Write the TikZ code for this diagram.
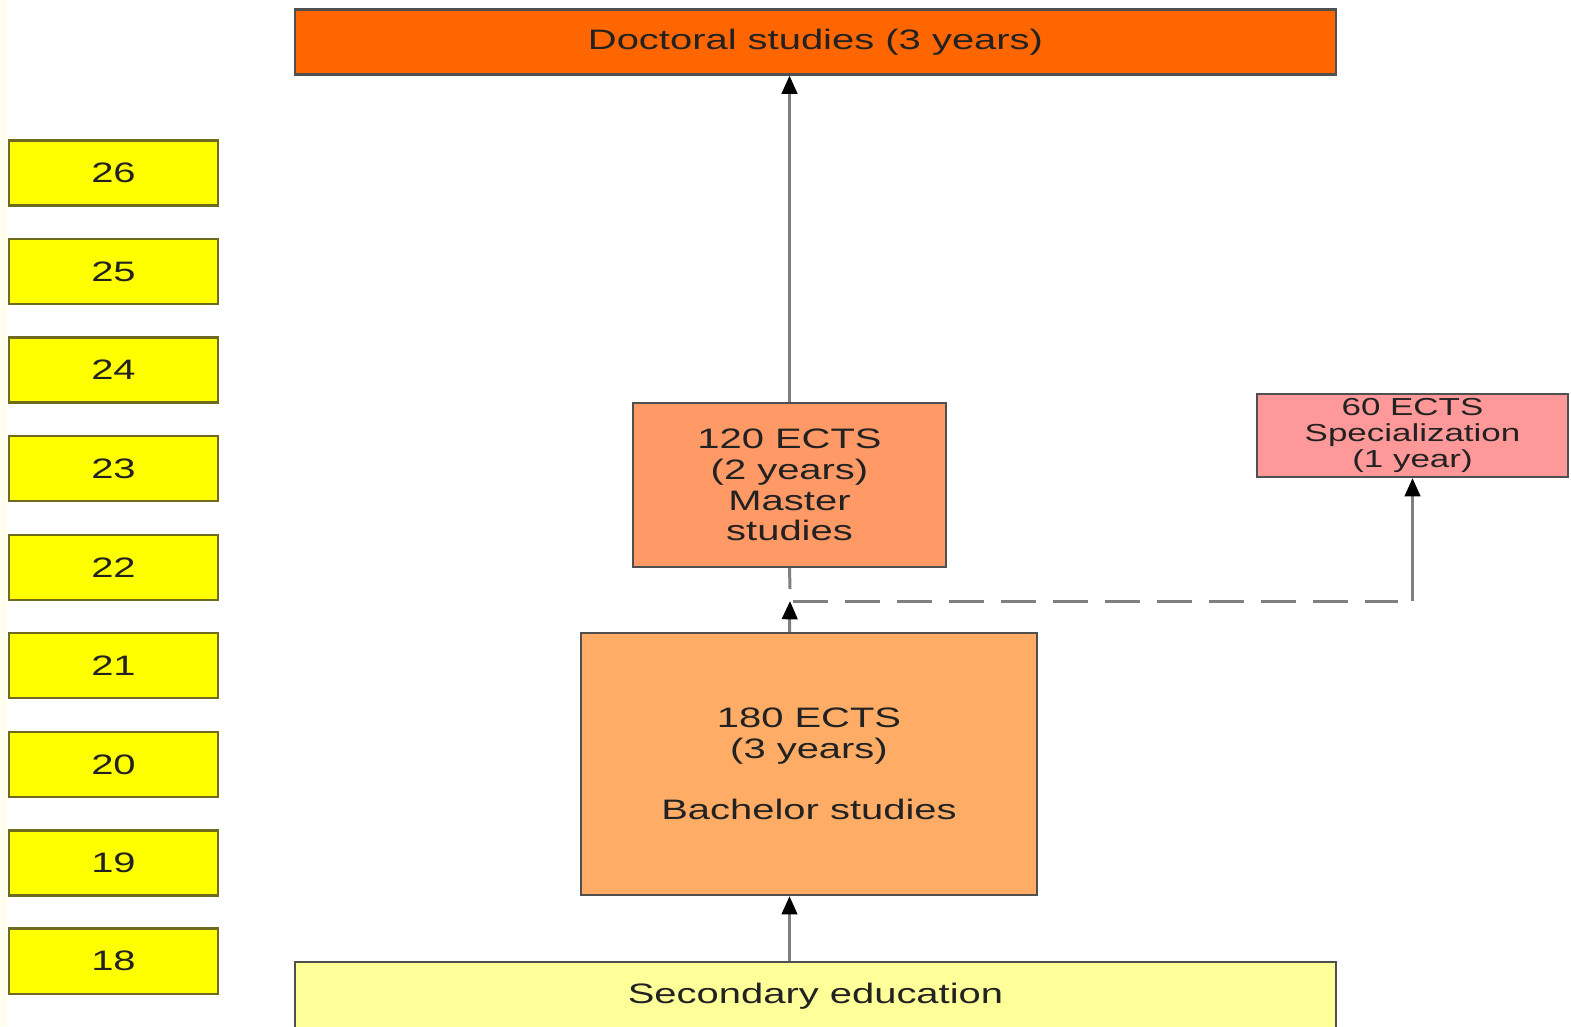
\documentclass[tikz,border=0pt]{standalone}
\usepackage{fontspec}
\setmainfont[FakeStretch=1.42]{Liberation Sans}
\usetikzlibrary{arrows.meta}
\definecolor{docf}{HTML}{FF6600}
\definecolor{agef}{HTML}{FFFF00}
\definecolor{masf}{HTML}{FF9966}
\definecolor{bachf}{HTML}{FFAD66}
\definecolor{specf}{HTML}{FF9999}
\definecolor{secf}{HTML}{FFFF99}
\definecolor{edge}{HTML}{505050}
\definecolor{ageedge}{HTML}{6E6A1E}
\definecolor{conn}{HTML}{7F7F7F}
\definecolor{txt}{HTML}{222222}
\definecolor{strip}{HTML}{FFFDEC}
\tikzset{
  box/.style={draw=edge, line width=0.6pt, rectangle, inner sep=0pt, align=center, text=txt,
    font=\fontsize{8pt}{8.7pt}\selectfont},
  agebox/.style={box, draw=ageedge, fill=agef, minimum width=2.09cm, minimum height=0.65cm},
  conline/.style={draw=conn, line width=0.85pt},
  uparrow/.style={conline, -{Triangle[color=black, fill=black, width=4.4pt, length=5.2pt]}},
  dashline/.style={conline, dash pattern=on 0.35cm off 0.17cm}
}
\begin{document}
\begin{tikzpicture}[x=0.01cm,y=-0.01cm]
\useasboundingbox (0,0) rectangle (1571,1026);
\fill[strip] (0,0) rectangle (7,1026);
% top and bottom
\node[box, fill=docf, minimum width=10.41cm, minimum height=0.65cm] (doc) at (815.5,42) {\raisebox{-0.5pt}{Doctoral studies (3 years)}};
\node[box, fill=secf, minimum width=10.41cm, minimum height=1.2cm, anchor=north,
  label={[anchor=center, yshift=-0.35cm, text=txt, font=\fontsize{8pt}{8.7pt}\selectfont]north:Secondary education}] (sec) at (815.5,961) {};
% ages
\node[agebox] (a26) at (113.5,173) {26};
\node[agebox] (a25) at (113.5,271.5) {25};
\node[agebox] (a24) at (113.5,370) {24};
\node[agebox] (a23) at (113.5,468.5) {23};
\node[agebox] (a22) at (113.5,567.5) {22};
\node[agebox] (a21) at (113.5,665.5) {21};
\node[agebox] (a20) at (113.5,764.5) {20};
\node[agebox] (a19) at (113.5,863) {19};
\node[agebox] (a18) at (113.5,961) {18};
% studies
\node[box, fill=masf, minimum width=3.13cm, minimum height=1.64cm] (mas) at (789.5,485)
  {120 ECTS\\(2 years)\\Master\\studies};
\node[box, fill=specf, minimum width=3.11cm, minimum height=0.83cm,
  font=\fontsize{7pt}{7.5pt}\selectfont] (spec) at (1412.5,435.5)
  {60 ECTS\\Specialization\\(1 year)};
\node[box, fill=bachf, minimum width=4.56cm, minimum height=2.62cm] (bach) at (809,764)
  {180 ECTS\\(3 years)\\[8.7pt]Bachelor studies};
% connectors
\coordinate (J) at (790,601);
\coordinate (S) at (790,589);
\coordinate (C) at (spec.south |- J);
\draw[uparrow] (mas.north) -- (doc.south -| mas.north);
\draw[conline] (mas.south) -- (S);
\draw[uparrow] (bach.north -| mas.south) -- (J);
\draw[uparrow] (sec.north -| mas.south) -- (bach.south -| mas.south);
\draw[dashline] ([xshift=0.03cm]J) -- ([xshift=-0.15cm]C);
\draw[uparrow] (C) -- (spec.south);
\end{tikzpicture}
\end{document}
